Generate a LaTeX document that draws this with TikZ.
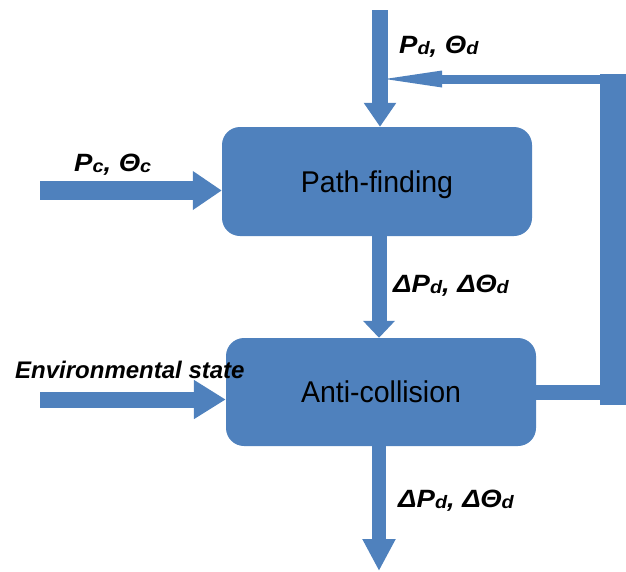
\documentclass[tikz,border=0pt]{standalone}
\usepackage{fontspec}
\setmainfont{Liberation Sans}
\newfontfamily\boxfont[FakeStretch=0.95]{Liberation Sans}
\newfontfamily\symfont[FakeStretch=1.1]{Liberation Sans}
\usetikzlibrary{arrows.meta}
\definecolor{blk}{HTML}{4F81BD}
\newcommand\mysub[1]{\raisebox{-1.5pt}{\fontsize{18}{18}\selectfont #1}}
\begin{document}
\begin{tikzpicture}[x=1pt,y=-1pt,
  box/.style={fill=blk, rounded corners=18pt, minimum width=310pt, minimum height=109pt,
    font=\boxfont\fontsize{30}{30}\selectfont, text=black, inner sep=0pt,
    text height=21.5pt, text depth=0pt},
  flow/.style={draw=blk, line width=#1},
  lbl/.style={font=\symfont\bfseries\itshape\fontsize{25}{25}\selectfont, inner sep=0pt, anchor=base west},
  envlbl/.style={font=\bfseries\itshape\fontsize{24}{24}\selectfont, inner sep=0pt, anchor=base west}
]
\useasboundingbox (0,0) rectangle (626,571);

\node[box] (pf) at (377,181.5) {Path-finding};
\node[box, minimum height=108pt] (ac) at (381,392) {Anti-collision};
\node[fill=blk, minimum width=26pt, minimum height=331pt, inner sep=0pt, anchor=north west] (bar) at (600,74) {};

\coordinate (tin) at (380,10);
\coordinate (fbend) at (385,79);
\coordinate (pcin) at (40,190.5);
\coordinate (envin) at (40,399.5);
\coordinate (mid) at (379,0);
\coordinate (out) at (379,571);

\draw[flow=9pt, -{Triangle[length=57pt,width=17pt,line width=0pt]}] (bar.west |- fbend) -- (fbend);
\draw[flow=16pt, -{Triangle[length=24pt,width=31pt]}] (tin) -- (tin |- pf.north);
\draw[flow=19pt, -{Triangle[length=29pt,width=37pt]}] (pcin) -- (pcin -| pf.west);
\draw[flow=16pt, -{Triangle[length=32pt,width=37pt]}] (envin) -- (envin -| ac.west);
\draw[flow=15pt, -{Triangle[length=17pt,width=31pt]}] (pf.south -| mid) -- (ac.north -| mid);
\draw[flow=14pt, -{Triangle[length=32pt,width=31pt]}] (ac.south -| mid) -- (out);
\draw[flow=15pt] (ac.east) -- (ac.east -| bar.west);

\node[lbl] (lpd) at (399,53) {P\mysub{d}, Θ\mysub{d}};
\node[lbl] (lpc) at (74,171) {P\mysub{c}, Θ\mysub{c}};
\node[lbl] (ld1) at (393,292) {ΔP\mysub{d}, ΔΘ\mysub{d}};
\node[lbl] (ld2) at (398,507) {ΔP\mysub{d}, ΔΘ\mysub{d}};
\node[envlbl] (lenv) at (15,378) {Environmental state};
\end{tikzpicture}
\end{document}
